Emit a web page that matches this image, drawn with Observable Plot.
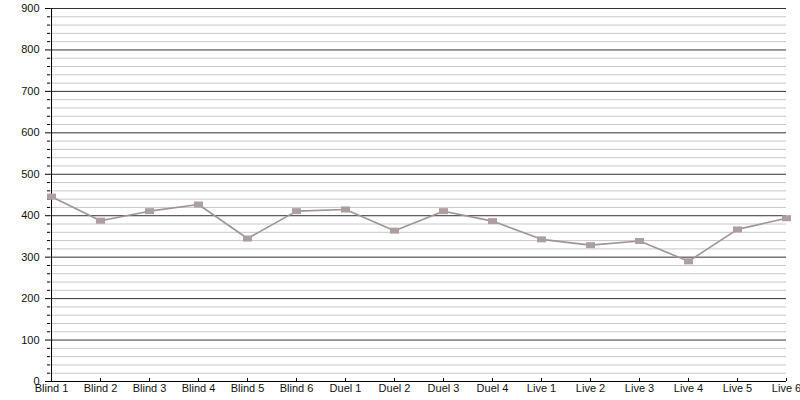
<!DOCTYPE html>
<html>
<head>
<meta charset="utf-8">
<script src="https://cdn.jsdelivr.net/npm/d3@7"></script>
<script src="https://cdn.jsdelivr.net/npm/@observablehq/plot@0.6"></script>
<style>
  html, body { margin: 0; padding: 0; background: #fff; }
  #chart svg { display: block; }
</style>
</head>
<body>
<div id="chart"></div>
<script>
const categories = ["Blind 1","Blind 2","Blind 3","Blind 4","Blind 5","Blind 6","Duel 1","Duel 2","Duel 3","Duel 4","Live 1","Live 2","Live 3","Live 4","Live 5","Live 6"];
const values = [446, 388, 411, 427, 345, 411, 415, 364, 411, 387, 343, 329, 339, 290, 367, 394];
const majorTicks = [0, 100, 200, 300, 400, 500, 600, 700, 800, 900];
const minorTicks = d3.range(0, 901, 20).filter(v => v % 100 !== 0);

const data = categories.map((c, i) => ({cat: c, value: values[i]}));

const rectSymbol = {
  draw(ctx, size) {
    const w = 4.5, h = 3;
    ctx.moveTo(-w, -h); ctx.lineTo(w, -h); ctx.lineTo(w, h); ctx.lineTo(-w, h); ctx.closePath();
  }
};

const chart = Plot.plot({
  width: 800,
  height: 400,
  marginLeft: 50,
  marginRight: 14,
  marginTop: 8,
  marginBottom: 19,
  style: {fontFamily: "Liberation Sans, Arial, sans-serif", fontSize: "11px", color: "#000", background: "#fff"},
  x: {type: "point", domain: categories, padding: 0, label: null},
  y: {domain: [0, 900], label: null},
  marks: [
    Plot.ruleY(minorTicks, {stroke: "#c8c8c8", strokeWidth: 1}),
    Plot.ruleY(majorTicks.filter(v => v > 0), {stroke: "#333", strokeWidth: 1}),
    Plot.axisY(majorTicks, {tickSize: 5, tickPadding: 6, stroke: "#000", fill: "#111", fontSize: 11}),
    Plot.axisY(minorTicks, {tickSize: 3, text: null, label: null, stroke: "#000"}),
    Plot.axisX(categories, {tickSize: -3, tickPadding: 6, stroke: "#000", fill: "#111", fontSize: 11, label: null}),
    Plot.ruleY([0], {stroke: "#000"}),
    Plot.ruleX([categories[0]], {stroke: "#000", y1: 0, y2: 900}),
    Plot.line(data, {x: "cat", y: "value", stroke: "#a09494", strokeWidth: 1.6}),
    Plot.dot(data, {x: "cat", y: "value", symbol: rectSymbol, fill: "#ad9f9f", stroke: "none", r: 4})
  ]
});
document.getElementById("chart").append(chart);
</script>
</body>
</html>
